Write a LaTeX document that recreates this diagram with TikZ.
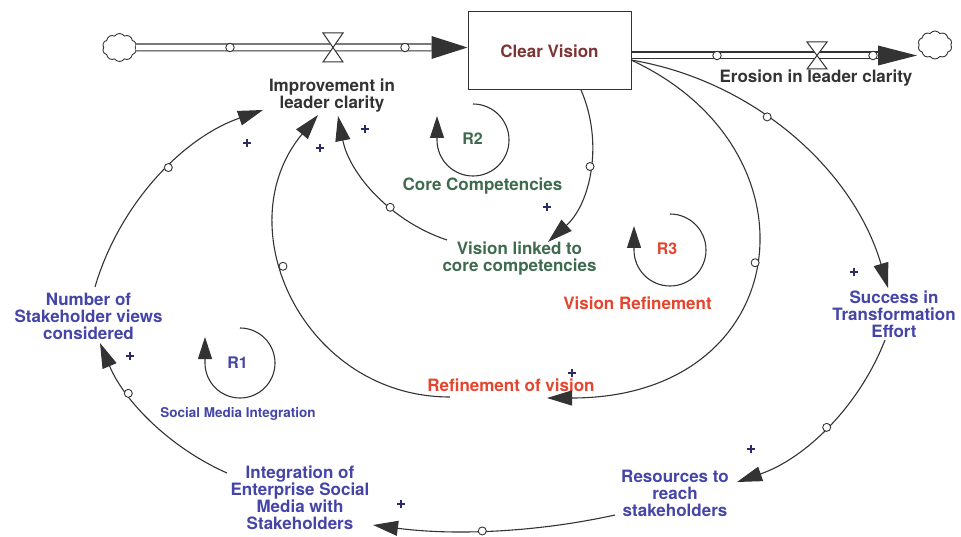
\documentclass[tikz,border=0pt]{standalone}
\usepackage{fontspec}
\setmainfont{TeX Gyre Heros}
\usetikzlibrary{arrows.meta,shapes.symbols,calc}
\definecolor{dk}{HTML}{333333}
\definecolor{bl}{HTML}{4545A8}
\definecolor{gr}{HTML}{3E6B4E}
\definecolor{rd}{HTML}{E5452E}
\definecolor{br}{HTML}{7E3434}
\definecolor{pl}{HTML}{2B2B66}
\begin{document}
\begin{tikzpicture}[x=1pt,y=-1pt,
  lbl/.style={font=\fontsize{17}{17}\selectfont\bfseries, align=center, inner sep=1pt},
  rlbl/.style={font=\fontsize{16}{16}\selectfont\bfseries, inner sep=1pt},
  stock/.style={draw=dk, line width=1pt, minimum width=163pt, minimum height=78pt, text=br, font=\fontsize{17}{17}\selectfont\bfseries},
  link/.style={draw=dk, line width=1.1pt, -{Triangle[length=25pt,width=15pt]}},
  loopc/.style={draw=dk, line width=1.1pt, -{Triangle[length=22pt,width=14pt]}},
  dot/.style={circle, draw=dk, fill=white, line width=0.9pt, inner sep=0pt, minimum size=8pt},
  pdot/.style={circle, draw=dk, fill=white, line width=0.9pt, inner sep=0pt, minimum size=8.5pt},
  pol/.style={inner sep=0pt, minimum size=8pt,
    path picture={\draw[pl, line width=1.7pt]
      (path picture bounding box.north) -- (path picture bounding box.south)
      (path picture bounding box.west) -- (path picture bounding box.east);}},
  pipe/.style={draw=dk, line width=1.2pt, double=white, double distance=5.6pt},
  valve/.style={draw=dk, fill=white, line width=1pt},
  cloudsh/.style={cloud, cloud puffs=10, cloud puff arc=110, aspect=1.2, draw=dk, line width=0.9pt, minimum width=34pt, minimum height=28pt, inner sep=0pt}
]
\useasboundingbox (0,0) rectangle (961,537);

% ---------- stock and flows ----------
\node[stock] (box) at (549.5,51) {Clear Vision};
\node[cloudsh] (cloudL) at (119.5,47.5) {};
\node[cloudsh] (cloudR) at (935,45) {};

\coordinate (lab) at ($(box.west)+(-36,-3.5)$);
\draw[pipe] (cloudL.east) -- (lab);
\fill[dk] ($(lab)+(0,-11.5)$) -- ($(lab)+(36,0)$) -- ($(lab)+(0,11.5)$) -- cycle;
\node[pdot] (pc1) at (230,47.5) {};
\node[pdot] (pc2) at (405,47.5) {};
\draw[valve] (323,33) -- (343,33) -- (333,47.5) -- cycle;
\draw[valve] (323,62) -- (343,62) -- (333,47.5) -- cycle;

\coordinate (rab) at (878,55.5);
\draw[pipe] (box.east |- rab) -- (rab);
\fill[dk] ($(rab)+(0,-10)$) -- ($(rab)+(39,0)$) -- ($(rab)+(0,10)$) -- cycle;
\node[pdot] (pc3) at (717,55.5) {};
\node[pdot] (pc4) at (873,55.5) {};
\draw[valve] (807,42) -- (827,42) -- (817,55.5) -- cycle;
\draw[valve] (807,69) -- (827,69) -- (817,55.5) -- cycle;

% ---------- labels ----------
\node[lbl, text=dk] (impr) at (332,95.5) {Improvement in\\leader clarity};
\node[lbl, text=dk] (eros) at (816,78) {Erosion in leader clarity};
\node[lbl, text=gr] (core) at (482.5,186) {Core Competencies};
\node[lbl, text=gr] (vlink) at (519.5,259) {Vision linked to\\core competencies};
\node[lbl, text=rd] (vref) at (637.5,303) {Vision Refinement};
\node[lbl, text=rd] (refv) at (511,385) {Refinement of vision};
\node[lbl, text=bl] (nsv) at (88.5,316) {Number of\\Stakeholder views\\considered};
\node[lbl, text=bl] (ste) at (894,314) {Success in\\Transformation\\Effort};
\node[lbl, text=bl] (res) at (675,493) {Resources to\\reach\\stakeholders};
\node[lbl, text=bl] (integ) at (300,498) {Integration of\\Enterprise Social\\Media with\\Stakeholders};
\node[font=\fontsize{13.5}{14}\selectfont\bfseries, text=bl, inner sep=1pt] (smi) at (238,414) {Social Media Integration};

% ---------- loop markers ----------
\node[rlbl, text=gr] (r2) at (472.5,139) {R2};
\node[rlbl, text=rd] (r3) at (667,249) {R3};
\node[rlbl, text=bl] (r1) at (237.5,363) {R1};
\draw[loopc] (473,140) ++(0,-36) arc[start angle=-90, end angle=180, radius=36] -- ++(0,-24);
\draw[loopc] (670,250) ++(0,-36) arc[start angle=-90, end angle=180, radius=36] -- ++(0,-24);
\draw[loopc] (240,363) ++(0,-35) arc[start angle=-90, end angle=180, radius=35] -- ++(0,-26);

% ---------- causal links ----------
\draw[link] ($(nsv)+(6.5,-29)$) .. controls (119,205) and (182,138) .. node[dot, pos=0.56] (d1) {} ($(impr)+(-69,14.5)$);
\draw[link] ($(refv)+(-61,12)$) .. controls (304,397) and (224.7,227) .. node[dot, pos=0.59] (d2) {} ($(impr)+(-14,19.5)$);
\draw[link] ($(vlink)+(-72.5,-19)$) .. controls (390.8,221.3) and (349.5,174.1) .. node[dot, pos=0.38] (d3) {} ($(impr)+(6,20.5)$);
\draw[link] ($(box)+(31.5,39)$) .. controls (603.9,142.6) and (590.6,203.6) .. node[dot, pos=0.47] (d4) {} ($(vlink)+(28.5,-17)$);
\draw[link] ($(box)+(81.5,9)$) .. controls (826,150) and (795,398) .. node[dot, pos=0.5] (d5) {} ($(refv)+(36,13)$);
\draw[link] ($(box)+(81.5,9)$) .. controls (753.2,80.4) and (853.2,169.1) .. node[dot, pos=0.41] (d6) {} ($(ste)+(-6,-26)$);
\draw[link] ($(ste)+(-9,26)$) .. controls (858.9,406.9) and (804.9,458.7) .. node[dot, pos=0.5] (d7) {} ($(res)+(62,-11)$);
\draw[link] ($(res)+(-60,22)$) .. controls (535.6,532.5) and (453.6,535.7) .. node[dot, pos=0.55] (d8) {} ($(integ)+(73,27)$);
\draw[link] ($(integ)+(-73,-25)$) .. controls (169.6,447.6) and (124.1,401) .. node[dot, pos=0.69] (d9) {} ($(nsv)+(11.5,27)$);

% ---------- polarities ----------
\node[pol] (p1) at (247,143) {};
\node[pol] (p2) at (320,148) {};
\node[pol] (p3) at (365,129) {};
\node[pol] (p4) at (547,207) {};
\node[pol] (p5) at (572,373) {};
\node[pol] (p6) at (854,272) {};
\node[pol] (p7) at (751,449) {};
\node[pol] (p8) at (401,504) {};
\node[pol] (p9) at (130,356) {};
\end{tikzpicture}
\end{document}
